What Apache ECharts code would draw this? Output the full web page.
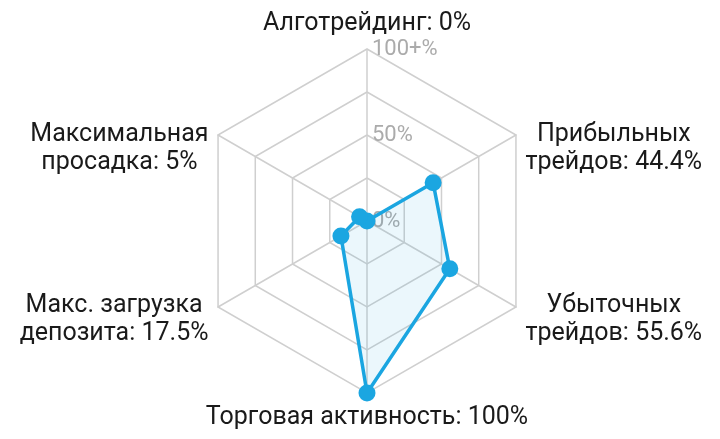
<!DOCTYPE html>
<html>
<head>
<meta charset="utf-8">
<script src="https://cdn.jsdelivr.net/npm/echarts@6/dist/echarts.min.js"></script>
<style>
html, body { margin: 0; padding: 0; background: #fff; }
#main { width: 720px; height: 439px; }
</style>
</head>
<body>
<div id="main"></div>
<script>
// indicators run counter-clockwise from the top
const names = ['Алготрейдинг', 'Максимальная\nпросадка', 'Макс. загрузка\nдепозита', 'Торговая активность', 'Убыточных\nтрейдов', 'Прибыльных\nтрейдов'];
const values = [0, 5, 17.5, 100, 55.6, 44.4];
const tickLabels = { 0: '0%', 50: '50%', 100: '100+%' };

// which spacer goes above each name (nudges the side labels down)
const spacer = { 1: 'up', 2: 'lo', 4: 'lo', 5: 'up' };

function nameFormatter(name) {
  const i = names.indexOf(name);
  const lines = (name + ': ' + values[i] + '%').split('\n').map(function (s) { return '{c|' + s + '}'; });
  if (spacer[i]) lines.unshift('{' + spacer[i] + '| }');
  return lines.join('\n');
}

const chart = echarts.init(document.getElementById('main'));

chart.setOption({
  animation: false,
  radar: {
    center: [367, 221],
    radius: 172,
    startAngle: 90,
    splitNumber: 4,
    shape: 'polygon',
    nameGap: 11,
    axisName: {
      color: '#1a1a1a',
      fontFamily: 'Roboto',
      fontSize: 25,
      formatter: nameFormatter,
      rich: {
        c: { align: 'center', fontFamily: 'Roboto', fontSize: 25, lineHeight: 28, color: '#1a1a1a' },
        up: { fontSize: 1, lineHeight: 38 },
        lo: { fontSize: 1, lineHeight: 14 }
      }
    },
    splitLine: { lineStyle: { color: '#cfcfcf', width: 1.5 } },
    splitArea: { show: false },
    axisLine: { lineStyle: { color: '#cfcfcf', width: 1.5 } },
    axisTick: { show: false },
    axisLabel: { show: false },
    indicator: names.map(function (n, i) {
      const ind = { name: n, min: 0, max: 100 };
      if (i === 0) {
        ind.axisLabel = {
          show: true,
          color: '#ababab',
          fontFamily: 'Roboto',
          fontSize: 22,
          align: 'left',
          verticalAlign: 'middle',
          margin: -5,
          formatter: function (v) { return tickLabels[v] || ''; }
        };
      }
      return ind;
    })
  },
  series: [{
    type: 'radar',
    symbol: 'circle',
    symbolSize: 17,
    lineStyle: { color: '#1ba6e1', width: 3.5 },
    itemStyle: { color: '#1ba6e1' },
    areaStyle: { color: 'rgba(27,166,225,0.12)' },
    data: [{ value: values }]
  }]
});
</script>
</body>
</html>
